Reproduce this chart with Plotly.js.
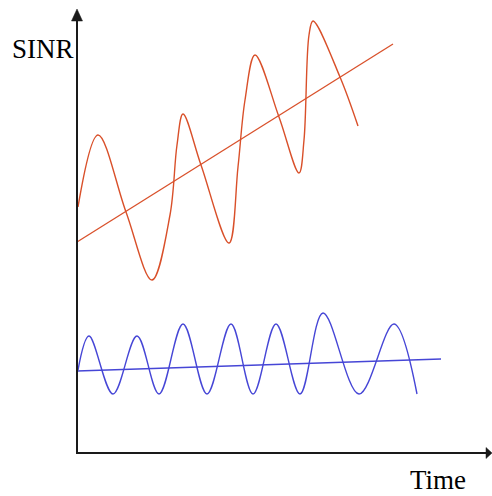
<!DOCTYPE html>
<html>
<head>
<meta charset="utf-8">
<script src="https://cdn.plot.ly/plotly-3.0.1.min.js"></script>
<style>html,body{margin:0;padding:0;background:#fff;}#chart{width:492px;height:496px;}</style>
</head>
<body>
<div id="chart"></div>
<script>
// Schematic SINR vs Time (arbitrary units)
var redWaveTime = [1,21,49,75,93,100,106,124,152,161,168,178,202,222,227,232,236,263,281];
var redWaveSINR = [245,317,240,172,237,307,338,287,209,285,352,397,335,279,312,417,431,375,326];
var redTrendTime = [0,316];
var redTrendSINR = [210,408];

var blueWaveTime = [1,12,36,60,82,106,130,154,176,199,223,246,282,317,340];
var blueWaveSINR = [82,116,58,116,58,128,58,128,58,128,58,139,58,128,58];
var blueTrendTime = [0,364];
var blueTrendSINR = [81,93];

var yLabel = 'SINR';
var xLabel = 'Time';

var redColor = '#d9502a';
var blueColor = '#4646d6';

var traces = [
  {x: redWaveTime, y: redWaveSINR, mode: 'lines', line: {color: redColor, width: 1.4, shape: 'spline', smoothing: 1}, hoverinfo: 'none'},
  {x: redTrendTime, y: redTrendSINR, mode: 'lines', line: {color: redColor, width: 1.3}, hoverinfo: 'none'},
  {x: blueWaveTime, y: blueWaveSINR, mode: 'lines', line: {color: blueColor, width: 1.4, shape: 'spline', smoothing: 1}, hoverinfo: 'none'},
  {x: blueTrendTime, y: blueTrendSINR, mode: 'lines', line: {color: blueColor, width: 1.3}, hoverinfo: 'none'}
];

var axisColor = '#1a1a1a';
var layout = {
  width: 492, height: 496,
  margin: {l: 0, r: 0, t: 0, b: 0},
  paper_bgcolor: '#fff', plot_bgcolor: '#fff',
  showlegend: false,
  xaxis: {range: [-77, 415], visible: false, fixedrange: true},
  yaxis: {range: [-44, 452], visible: false, fixedrange: true},
  shapes: [
    {type: 'line', xref: 'x', yref: 'y', x0: 0, y0: -1, x1: 0, y1: 432, line: {color: axisColor, width: 2}},
    {type: 'path', xref: 'x', yref: 'y', path: 'M -5.5 431 L 5.5 431 L 0 443 Z', fillcolor: axisColor, line: {color: axisColor, width: 0.5}},
    {type: 'line', xref: 'x', yref: 'y', x0: -1, y0: -1, x1: 410, y1: -1, line: {color: axisColor, width: 2}},
    {type: 'path', xref: 'x', yref: 'y', path: 'M 409 4.5 L 409 -6.5 L 415 -1 Z', fillcolor: axisColor, line: {color: axisColor, width: 0.5}}
  ],
  annotations: [
    {x: -34, y: 403, xref: 'x', yref: 'y', text: yLabel, showarrow: false, xanchor: 'center', yanchor: 'middle', font: {family: 'Liberation Serif, Times New Roman, serif', size: 27, color: '#000'}},
    {x: 361, y: -28, xref: 'x', yref: 'y', text: xLabel, showarrow: false, xanchor: 'center', yanchor: 'middle', font: {family: 'Liberation Serif, Times New Roman, serif', size: 27, color: '#000'}}
  ]
};

Plotly.newPlot('chart', traces, layout, {staticPlot: true, displayModeBar: false});
</script>
</body>
</html>
